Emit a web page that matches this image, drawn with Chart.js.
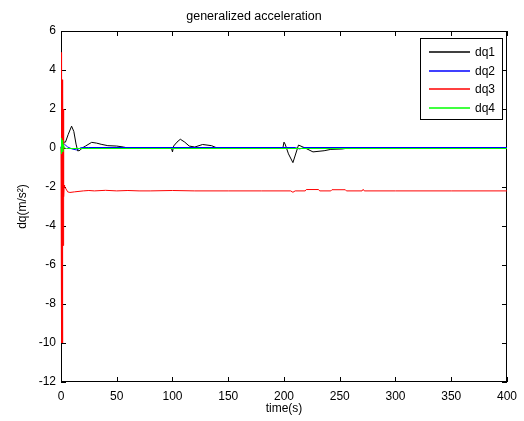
<!DOCTYPE html>
<html>
<head>
<meta charset="utf-8">
<script src="https://cdn.jsdelivr.net/npm/chart.js@4/dist/chart.umd.min.js"></script>
<style>
  html, body { margin: 0; padding: 0; background: #fff; }
  #wrap { width: 524px; height: 421px; }
</style>
</head>
<body>
<div id="wrap"><canvas id="accChart" width="524" height="421"></canvas></div>
<script>
// series labels and colours
const seriesNames = ["dq1", "dq2", "dq3", "dq4"];
const seriesColors = ["#000000", "#0000ff", "#ff0000", "#00ff00"];

// dq1 (black)
const tDq1 = [0, 2, 4, 6.5, 9.5, 11.5, 13.5, 15, 17, 19, 22, 27.5, 32, 36, 42, 50, 56, 60,
  99, 100, 101, 104, 107, 111, 115, 120, 127, 135, 140,
  199, 200, 201, 204, 208, 213, 219, 226, 236, 242, 252, 258, 400];
const yDq1 = [0, 0.3, 0.3, 0.7, 1.12, 0.85, 0.2, -0.15, -0.12, 0, 0.1, 0.29, 0.25, 0.19, 0.12, 0.1, 0.05, 0,
  0, -0.2, 0.1, 0.3, 0.45, 0.3, 0.1, 0.05, 0.18, 0.12, 0,
  0, 0.3, 0.2, -0.3, -0.75, 0.15, 0, -0.2, -0.14, -0.07, -0.05, 0, 0];

// dq2 (blue)
const tDq2 = [0, 1, 3, 6, 10, 14, 18, 25, 210, 214, 218, 400];
const yDq2 = [0, 0.3, 0.2, 0.05, -0.05, -0.1, 0.02, 0.025, 0.025, -0.05, 0.025, 0.025];

// dq3 (red)
const tDq3 = [0, 0.2, 0.4, 0.6, 0.8, 0.95, 1.15, 1.35, 1.55, 1.75, 1.85, 2.05, 2.25, 2.45, 2.65, 2.8, 3.2,
  4, 6, 8, 12, 20, 25, 30, 40, 50, 60, 70, 80, 100, 120, 150, 180, 206, 208, 210, 219, 220, 231, 232,
  242, 243, 255, 256, 270, 271, 272, 300, 350, 400];
const yDq3 = [0, 4.9, -10, 4, -9, 3.5, -10, 3, -8, 2.8, -5, 2, -4, 0, -2.5, -1.9, -2.0,
  -2.05, -2.25, -2.28, -2.25, -2.2, -2.18, -2.2, -2.17, -2.2, -2.18, -2.2, -2.2, -2.18, -2.2, -2.2, -2.2, -2.2, -2.27, -2.2, -2.2, -2.13, -2.13, -2.2,
  -2.2, -2.14, -2.14, -2.2, -2.2, -2.12, -2.2, -2.2, -2.2, -2.2];

// dq4 (green)
const tDq4 = [0, 0.3, 0.6, 1, 1.5, 2, 3, 5, 400];
const yDq4 = [0, 0.5, -0.3, 0.4, -0.2, 0.2, 0, -0.026, -0.026];

// axis ticks
const xTicks = [0, 50, 100, 150, 200, 250, 300, 350, 400];
const yTicks = [-12, -10, -8, -6, -4, -2, 0, 2, 4, 6];

const FONT = "'Liberation Sans', Arial, sans-serif";

const toPoints = (ts, ys) => ts.map((t, i) => ({ x: t, y: ys[i] }));
const allT = [tDq1, tDq2, tDq3, tDq4];
const allY = [yDq1, yDq2, yDq3, yDq4];

// MATLAB-like box with inward ticks (under the data) and boxed legend (on top)
const boxPlugin = {
  id: "matlabBox",
  beforeDatasetsDraw(chart) {
    const { ctx, chartArea: a, scales } = chart;
    ctx.save();
    ctx.strokeStyle = "#000";
    ctx.lineWidth = 1;
    ctx.strokeRect(a.left + 0.5, a.top + 0.5, a.right - a.left - 1, a.bottom - a.top - 1);
    const len = 5;
    ctx.beginPath();
    xTicks.forEach((v) => {
      const px = Math.round(scales.x.getPixelForValue(v)) + 0.5;
      ctx.moveTo(px, a.bottom); ctx.lineTo(px, a.bottom - len);
      ctx.moveTo(px, a.top); ctx.lineTo(px, a.top + len);
    });
    yTicks.forEach((v) => {
      const py = Math.round(scales.y.getPixelForValue(v)) + 0.5;
      ctx.moveTo(a.left, py); ctx.lineTo(a.left + len, py);
      ctx.moveTo(a.right, py); ctx.lineTo(a.right - len, py);
    });
    ctx.stroke();
    ctx.restore();
  },
  afterDatasetsDraw(chart) {
    const { ctx } = chart;
    ctx.save();
    const lx = 420, ly = 38, lw = 82, lh = 81;
    ctx.fillStyle = "#fff";
    ctx.fillRect(lx, ly, lw, lh);
    ctx.strokeStyle = "#000";
    ctx.lineWidth = 1;
    ctx.strokeRect(lx + 0.5, ly + 0.5, lw, lh);
    ctx.font = "12px " + FONT;
    ctx.textBaseline = "middle";
    ctx.textAlign = "left";
    seriesNames.forEach((name, i) => {
      const y = Math.round(ly + 14 + i * 18.7);
      ctx.strokeStyle = seriesColors[i];
      ctx.lineWidth = 1.5;
      ctx.beginPath();
      ctx.moveTo(429, y);
      ctx.lineTo(470, y);
      ctx.stroke();
      ctx.fillStyle = "#000";
      ctx.fillText(name, 475, y + 0.5);
    });
    ctx.restore();
  },
};

new Chart(document.getElementById("accChart"), {
  type: "line",
  data: {
    datasets: seriesNames.map((name, i) => ({
      label: name,
      data: toPoints(allT[i], allY[i]),
      borderColor: seriesColors[i],
      borderWidth: 1,
      pointRadius: 0,
      tension: 0,
      fill: false,
      clip: { left: 2, right: 0, top: 0, bottom: 0 },
      order: 4 - i,
    })),
  },
  options: {
    responsive: false,
    animation: false,
    devicePixelRatio: 1,
    layout: { padding: { left: 0, right: 16, top: 0, bottom: 0 } },
    plugins: {
      legend: { display: false },
      tooltip: { enabled: false },
      title: {
        display: true,
        text: "generalized acceleration",
        color: "#000",
        font: { family: FONT, size: 12.5, weight: "normal" },
        padding: { top: 9, bottom: 7 },
      },
    },
    scales: {
      x: {
        type: "linear",
        min: 0,
        max: 400,
        afterFit: (s) => { s.height = 39; },
        afterBuildTicks: (s) => { s.ticks = xTicks.map((v) => ({ value: v })); },
        grid: { display: false, drawTicks: false },
        border: { display: false },
        ticks: { color: "#000", padding: 7, maxRotation: 0, font: { family: FONT, size: 12 } },
        title: {
          display: true,
          text: "time(s)",
          color: "#000",
          font: { family: FONT, size: 12 },
          padding: { top: 0, bottom: 5 },
        },
      },
      y: {
        min: -12,
        max: 6,
        afterFit: (s) => { s.width = 61; },
        afterBuildTicks: (s) => { s.ticks = yTicks.map((v) => ({ value: v })); },
        grid: { display: false, drawTicks: false },
        border: { display: false },
        ticks: { color: "#000", padding: 5, font: { family: FONT, size: 12 } },
        title: {
          display: true,
          text: "dq(m/s²)",
          color: "#000",
          font: { family: FONT, size: 12 },
          padding: { top: 15, bottom: 0 },
        },
      },
    },
  },
  plugins: [boxPlugin],
});
</script>
</body>
</html>
